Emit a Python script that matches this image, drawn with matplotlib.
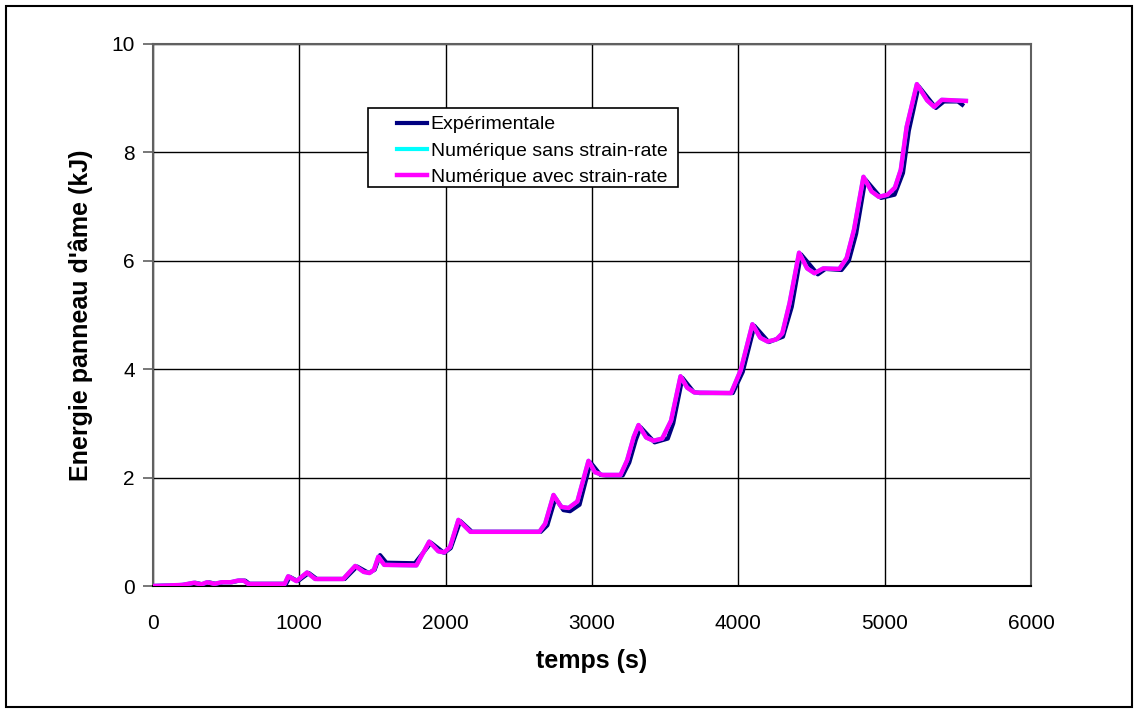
import matplotlib
matplotlib.use('Agg')
import matplotlib.pyplot as plt
from matplotlib.patches import Rectangle

plt.rcParams['font.family'] = ['Liberation Sans', 'DejaVu Sans']

# Numerical curves (with / without strain-rate): time (s), energy (kJ)
t_num = [0, 100, 200, 280, 330, 370, 420, 470, 530, 580, 620, 650, 900, 924, 980,
         1053, 1108, 1300, 1382, 1440, 1480, 1510, 1540, 1580, 1800, 1888, 1950,
         1990, 2030, 2087, 2169, 2640, 2680, 2737, 2790, 2840, 2900, 2976, 3020,
         3070, 3195, 3240, 3285, 3318, 3370, 3420, 3480, 3540, 3605, 3650, 3700,
         3950, 4016, 4096, 4150, 4200, 4260, 4300, 4350, 4415, 4470, 4520, 4580,
         4690, 4740, 4790, 4855, 4910, 4960, 5020, 5070, 5110, 5150, 5220, 5290,
         5338, 5390, 5555]
e_avec = [0.0, 0.01, 0.02, 0.06, 0.03, 0.07, 0.04, 0.07, 0.07, 0.10, 0.10, 0.04,
          0.04, 0.18, 0.09, 0.25, 0.13, 0.13, 0.37, 0.26, 0.24, 0.30, 0.54, 0.39,
          0.38, 0.82, 0.64, 0.62, 0.72, 1.22, 1.00, 1.00, 1.15, 1.68, 1.46, 1.44,
          1.56, 2.31, 2.10, 2.05, 2.05, 2.32, 2.75, 2.97, 2.74, 2.68, 2.72, 3.05,
          3.87, 3.66, 3.57, 3.56, 3.98, 4.83, 4.58, 4.51, 4.55, 4.66, 5.22, 6.15,
          5.86, 5.77, 5.86, 5.85, 6.05, 6.57, 7.55, 7.28, 7.18, 7.22, 7.35, 7.68,
          8.47, 9.26, 8.96, 8.84, 8.97, 8.95]
e_sans = [0.0, 0.01, 0.02, 0.06, 0.03, 0.07, 0.04, 0.07, 0.07, 0.10, 0.10, 0.04,
          0.04, 0.18, 0.09, 0.25, 0.13, 0.13, 0.37, 0.26, 0.24, 0.30, 0.54, 0.39,
          0.38, 0.82, 0.64, 0.62, 0.72, 1.22, 1.00, 1.00, 1.15, 1.68, 1.46, 1.44,
          1.56, 2.31, 2.10, 2.05, 2.05, 2.32, 2.75, 2.97, 2.74, 2.68, 2.72, 3.05,
          3.87, 3.66, 3.57, 3.56, 3.98, 4.83, 4.58, 4.51, 4.55, 4.66, 5.22, 6.15,
          5.86, 5.77, 5.86, 5.85, 6.05, 6.57, 7.55, 7.28, 7.18, 7.22, 7.35, 7.68,
          8.47, 9.26, 8.96, 8.84, 8.97, 8.95]

# Experimental curve
t_exp = [0, 110, 210, 290, 340, 380, 430, 480, 540, 590, 630, 660, 910, 935, 990,
         1065, 1120, 1310, 1395, 1475, 1515, 1552, 1595, 1790, 1900, 1990, 2035,
         2100, 2180, 2650, 2695, 2750, 2805, 2850, 2915, 2990, 3058, 3095, 3210,
         3255, 3300, 3332, 3428, 3518, 3555, 3618, 3695, 3735, 3962, 4030, 4110,
         4208, 4305, 4365, 4428, 4543, 4595, 4705, 4755, 4805, 4868, 4975, 5068,
         5125, 5165, 5232, 5350, 5405, 5500, 5530]
e_exp = [0.0, 0.01, 0.02, 0.06, 0.03, 0.07, 0.04, 0.07, 0.07, 0.10, 0.10, 0.04,
         0.04, 0.17, 0.09, 0.24, 0.13, 0.13, 0.36, 0.24, 0.30, 0.57, 0.43, 0.42,
         0.80, 0.61, 0.70, 1.20, 1.00, 1.00, 1.12, 1.62, 1.40, 1.38, 1.50, 2.28,
         2.05, 2.04, 2.04, 2.28, 2.70, 2.93, 2.65, 2.72, 3.00, 3.84, 3.58, 3.56,
         3.56, 3.95, 4.80, 4.50, 4.60, 5.15, 6.12, 5.75, 5.85, 5.83, 6.00, 6.50,
         7.50, 7.16, 7.22, 7.62, 8.40, 9.22, 8.82, 8.94, 8.94, 8.88]

x_ticks = [0, 1000, 2000, 3000, 4000, 5000, 6000]
y_ticks = [0, 2, 4, 6, 8, 10]

fig = plt.figure(figsize=(11.38, 7.13), dpi=100)
W, H = fig.bbox.width, fig.bbox.height
ax = fig.add_axes([0.1344, 0.1781, 0.7716, 0.7602])

ax.plot(t_exp, e_exp, color='#000080', lw=3, label='Expérimentale', zorder=3)
ax.plot(t_num, e_sans, color='#00FFFF', lw=3, label='Numérique sans strain-rate', zorder=4)
ax.plot(t_num, e_avec, color='#FF00FF', lw=3.2, label='Numérique avec strain-rate', zorder=5)

ax.set_xlim(0, 6000)
ax.set_ylim(0, 10)
ax.set_xticks(x_ticks)
ax.set_yticks(y_ticks)
ax.grid(True, color='black', lw=1)
ax.set_axisbelow(True)
for s in ax.spines.values():
    s.set_color('#606060')
    s.set_linewidth(1.5)
ax.spines['bottom'].set_color('black')
ax.tick_params(axis='x', length=0, pad=20, labelsize=15)
ax.tick_params(axis='y', length=7, width=1.2, color='#606060', pad=6, labelsize=15)

ax.set_xlabel('temps (s)', fontsize=18, fontweight='bold', labelpad=12)
ax.set_ylabel("Energie panneau d'âme (kJ)", fontsize=18, fontweight='bold', labelpad=13)

# legend drawn without frame, box added by hand (Excel-style wide left padding)
box_l, box_t, box_b = 368, H - 108, H - 187
leg = fig.legend(*ax.get_legend_handles_labels(), loc='upper left',
                 bbox_to_anchor=(390 / W, (box_t - 1) / H), bbox_transform=fig.transFigure,
                 borderaxespad=0, fontsize=14, handlelength=1.55, handletextpad=0.2,
                 labelspacing=0.45, frameon=False, borderpad=0.35)
leg.set_zorder(10)
fig.canvas.draw()
bb = leg.get_window_extent(fig.canvas.get_renderer())
box_r = bb.x1 + 4
fig.patches.append(Rectangle((box_l / W, box_b / H), (box_r - box_l) / W, (box_t - box_b) / H,
                             transform=fig.transFigure, facecolor='white',
                             edgecolor='black', lw=1.2, zorder=1))

# outer chart border
fig.patches.append(Rectangle((0.005, 0.008), 0.99, 0.984, transform=fig.transFigure,
                             fill=False, edgecolor='black', lw=1.5))

fig.savefig('out.png', dpi=100)
